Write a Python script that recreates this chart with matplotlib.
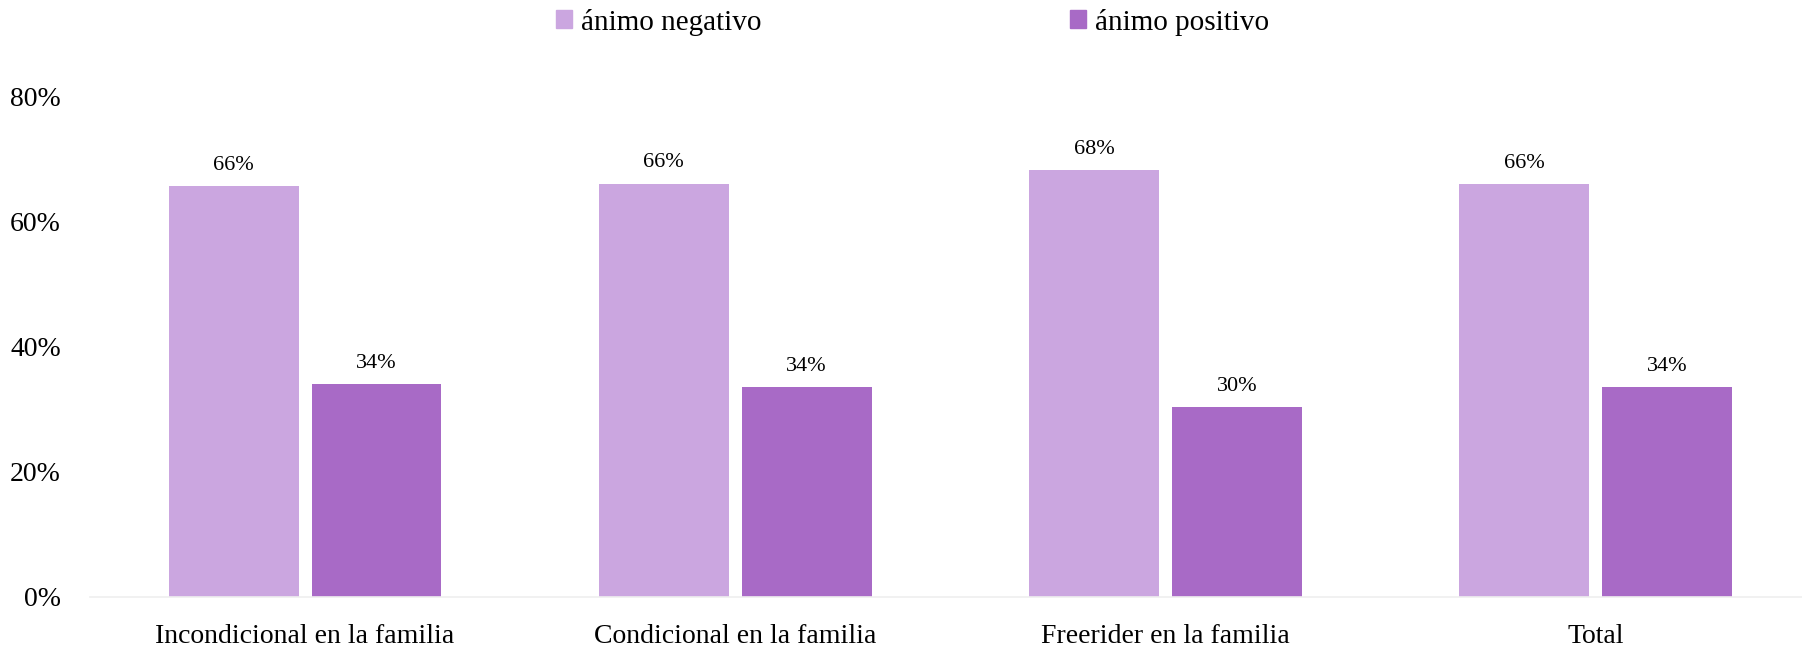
import numpy as np
import matplotlib
matplotlib.use("Agg")
import matplotlib.pyplot as plt
from matplotlib.patches import Patch

plt.rcParams['font.family'] = ['Liberation Serif', 'DejaVu Serif']

categories = ['Incondicional en la familia', 'Condicional en la familia',
              'Freerider en la familia', 'Total']
series_names = ['ánimo negativo', 'ánimo positivo']
negativo = [65.7, 66.1, 68.2, 66.0]
positivo = [34.0, 33.6, 30.4, 33.6]
neg_labels = ['66%', '66%', '68%', '66%']
pos_labels = ['34%', '34%', '30%', '34%']
yticks = [0, 20, 40, 60, 80]

c_neg = '#CBA6E0'
c_pos = '#A86AC6'

fig = plt.figure(figsize=(18.02, 6.49), dpi=100)
ax = fig.add_axes([90 / 1802, 52.3 / 649, 1 - 90 / 1802, 500 / 649])

x = np.arange(len(categories))
w = 0.302
off = 0.166
b1 = ax.bar(x - off, negativo, w, color=c_neg)
b2 = ax.bar(x + off, positivo, w, color=c_pos)

for bars, labels in [(b1, neg_labels), (b2, pos_labels)]:
    for b, lab in zip(bars, labels):
        ax.annotate(lab, (b.get_x() + b.get_width() / 2, b.get_height()),
                    xytext=(0, 8), textcoords='offset points',
                    ha='center', va='bottom', fontsize=16)

ax.set_xlim(-0.5, 3.48)
ax.set_ylim(0, 80)
ax.set_yticks(yticks)
ax.set_yticklabels([f'{v}%' for v in yticks], fontsize=20)
ax.set_xticks(x)
ax.set_xticklabels(categories, fontsize=20)
ax.tick_params(axis='y', length=0, pad=21)
ax.tick_params(axis='x', length=0, pad=20)
for s in ['top', 'right', 'left']:
    ax.spines[s].set_visible(False)
ax.spines['bottom'].set_color('#EFEFEF')
ax.spines['bottom'].set_linewidth(1.2)

handles = [Patch(color=c_neg), Patch(color=c_pos)]
fig.legend(handles, series_names, loc='center', bbox_to_anchor=(0.5064, 0.966),
           ncol=2, frameon=False, fontsize=21, handlelength=0.55,
           handleheight=0.55, handletextpad=0.3, columnspacing=10.6)

fig.savefig('out.png', dpi=100)
